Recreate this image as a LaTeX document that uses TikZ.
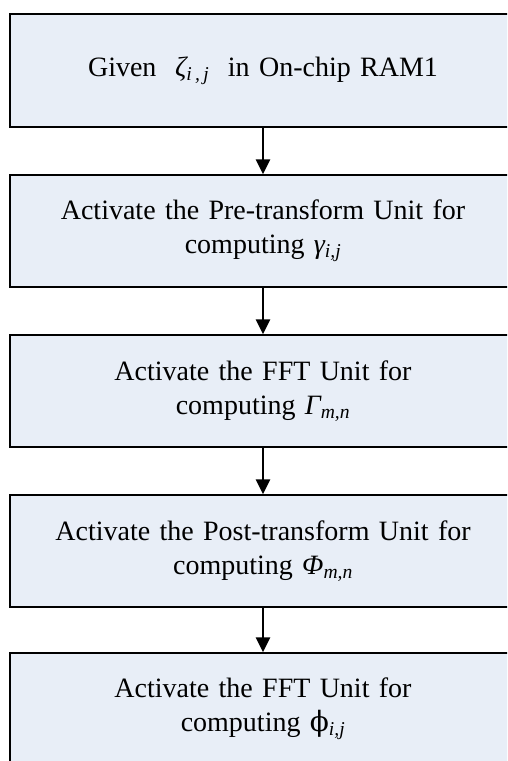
\documentclass[tikz,border=0pt]{standalone}
\usepackage{fontspec}
\setmainfont{Liberation Serif}
\newfontfamily\phifont{DejaVu Serif}
\usetikzlibrary{arrows.meta}
\definecolor{boxfill}{HTML}{E8EEF7}
\newcommand{\gk}[2]{{\itshape #1\textsubscript{#2}}}
\begin{document}
\begin{tikzpicture}[x=1pt,y=-1pt,
  stepbox/.style={draw=black,line width=1.4pt,fill=boxfill,rectangle,
    minimum width=506pt,minimum height=112pt,inner sep=0pt,
    align=center,font=\fontsize{28}{34}\selectfont,text width=490pt},
  flow/.style={line width=2.6pt,-{Triangle[width=14pt,length=15pt]}}]
\useasboundingbox (0,0) rectangle (507,761);
\clip (0,0) rectangle (507,761);
\node[stepbox,minimum height=113pt] (s1) at (263,70.5)
  {Given \ \gk{ζ}{i\,,\,j}\ \ in On-chip RAM1};
\node[stepbox] (s2) at (263,231)
  {Activate the Pre-transform Unit for\\computing \gk{γ}{i,j}};
\node[stepbox] (s3) at (263,391)
  {Activate the FFT Unit for\\computing \gk{Γ}{m,n}};
\node[stepbox] (s4) at (263,551)
  {Activate the Post-transform Unit for\\computing \gk{Φ}{m,n}};
\node[stepbox] (s5) at (263,709)
  {Activate the FFT Unit for\\computing {\phifont ϕ}\textsubscript{\itshape i,j}};
\draw[flow] (s1) -- (s2);
\draw[flow] (s2) -- (s3);
\draw[flow] (s3) -- (s4);
\draw[flow] (s4) -- (s5);
\end{tikzpicture}
\end{document}
